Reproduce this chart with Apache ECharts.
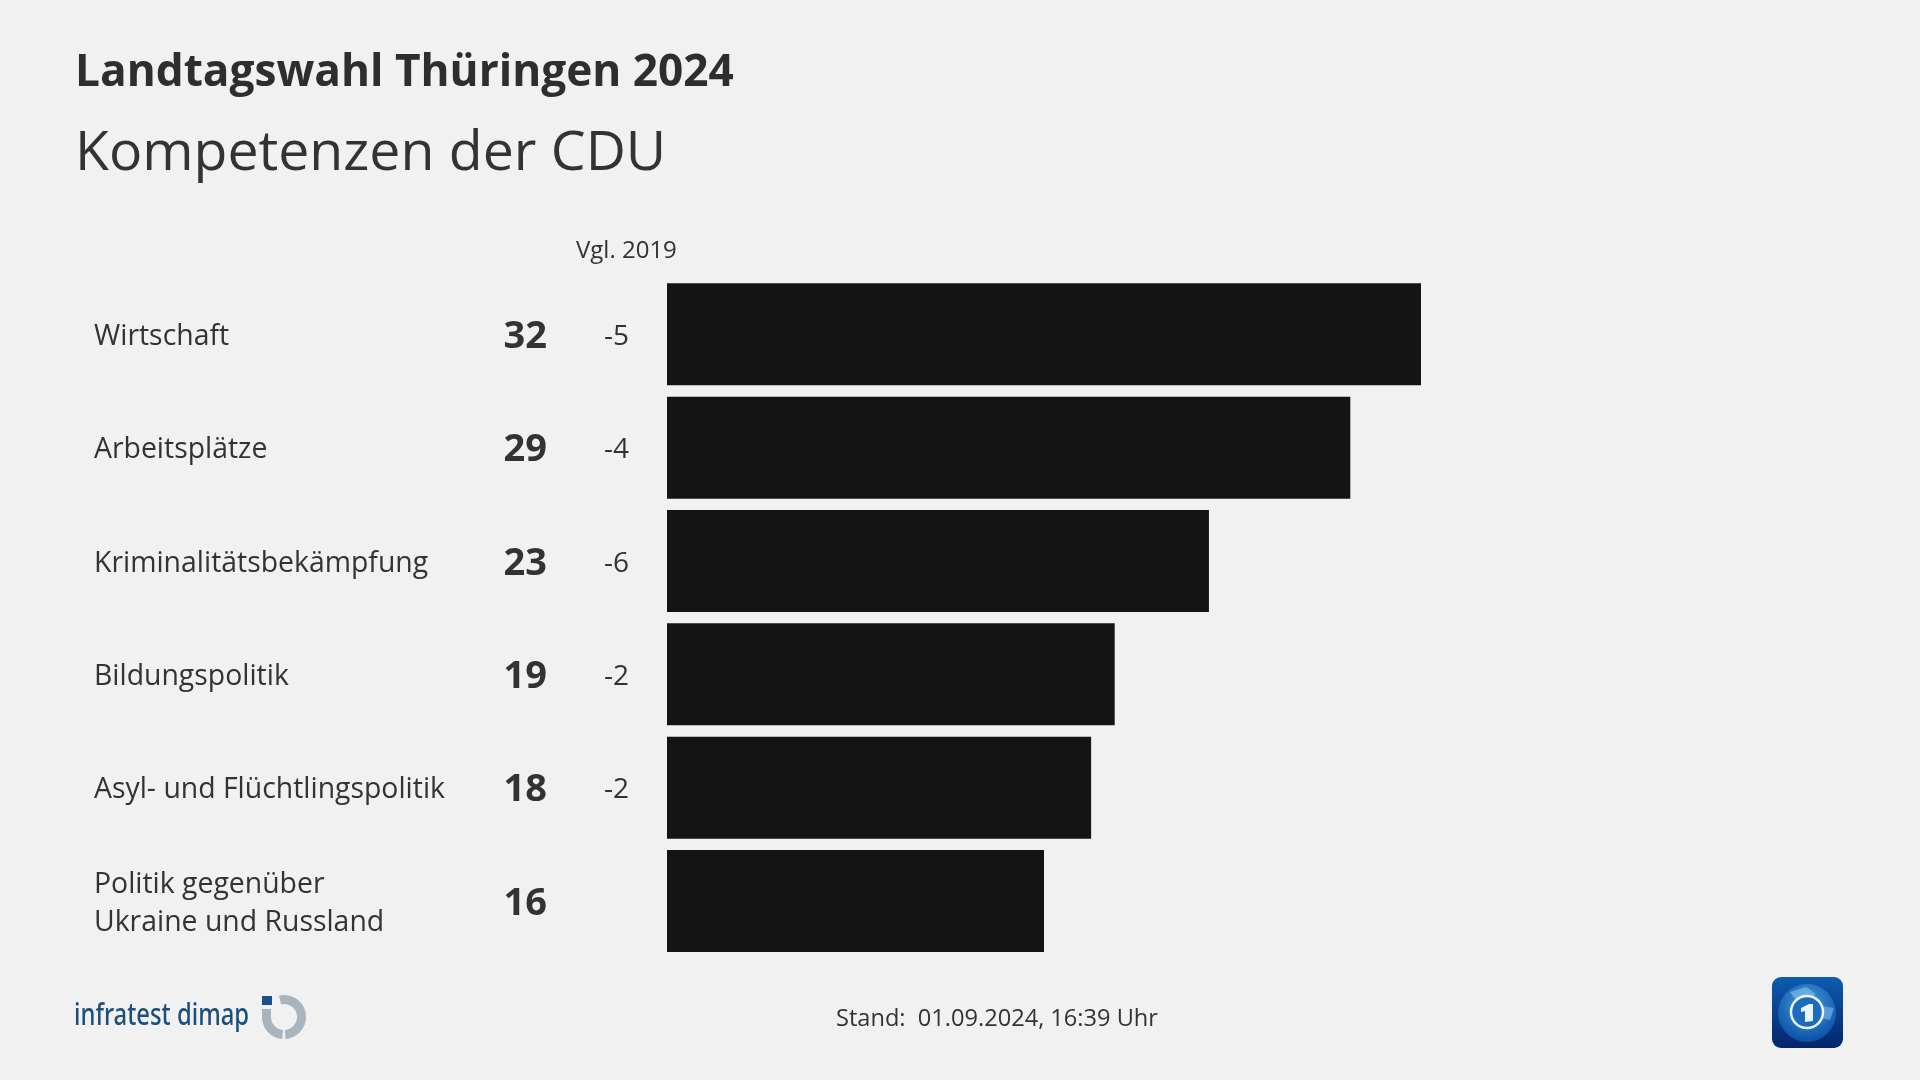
<!DOCTYPE html>
<html><head><meta charset="utf-8">
<style>html,body{margin:0;padding:0;background:#f1f1f1}#c{width:1920px;height:1080px}</style>
<script src="https://cdn.jsdelivr.net/npm/echarts@6/dist/echarts.min.js"></script></head>
<body><div id="c"></div>
<script>
const categories = ['Wirtschaft','Arbeitsplätze','Kriminalitätsbekämpfung','Bildungspolitik','Asyl- und Flüchtlingspolitik','Politik gegenüber\nUkraine und Russland'];
const values = [32,29,23,19,18,16];
const changes = ['-5','-4','-6','-2','-2',''];
const FONT = '"Open Sans","Noto Sans",sans-serif';
const INK = '#333333';
const chart = echarts.init(document.getElementById('c'), null, {renderer:'canvas'});
const yBase = {type:'category', inverse:true, position:'left', gridIndex:1, axisLine:{show:false}, axisTick:{show:false}, splitLine:{show:false}};
chart.setOption({
  backgroundColor:'#f1f1f1',
  animation:false,
  title:[
    {text:'Landtagswahl Thüringen 2024', left:70, top:46, textStyle:{fontFamily:FONT,fontWeight:700,fontSize:44.2,color:'#2e2e2e'}},
    {text:'Kompetenzen der CDU', left:70, top:122, textStyle:{fontFamily:FONT,fontWeight:400,fontSize:55.4,color:'#333333'}}
  ],
  grid:[
    {left:667, top:277.7, width:754, height:680},
    {left:667, top:280.4, width:754, height:680}
  ],
  xAxis:[
    {type:'value', min:0, max:32, show:false, gridIndex:0},
    {type:'value', min:0, max:32, show:false, gridIndex:1}
  ],
  yAxis:[
    {type:'category', inverse:true, gridIndex:0, data:categories, show:false},
    Object.assign({}, yBase, {data:categories, axisLabel:{align:'left', margin:573, fontFamily:FONT, fontSize:28.4, lineHeight:38.5, color:INK}}),
    Object.assign({}, yBase, {data:values, axisLabel:{align:'right', margin:120, fontFamily:FONT, fontSize:38, fontWeight:700, color:INK}}),
    Object.assign({}, yBase, {data:changes, axisLabel:{align:'left', margin:63, fontFamily:FONT, fontSize:28, color:INK}})
  ],
  series:[{type:'bar', xAxisIndex:0, yAxisIndex:0, data:values, barWidth:102, itemStyle:{color:'#141414'}, silent:true}],
  graphic:[
    {type:'text', left:576, top:239, style:{text:'Vgl. 2019', font:'24px '+FONT, fill:INK}},
    {type:'text', left:836, top:1007, style:{text:'Stand:  01.09.2024, 16:39 Uhr', font:'23.6px '+FONT, fill:INK}},
    {type:'text', x:74, y:1001, scaleX:0.795, style:{text:'infratest dimap', font:'500 30px "Noto Sans",sans-serif', fill:'#1d4f7c'}},
    // infratest dimap logo mark
    {type:'arc', shape:{cx:284,cy:1017,r:17.5,startAngle:-1.8,endAngle:1.5}, style:{stroke:'#a9b4bd',lineWidth:9,fill:null}},
    {type:'arc', shape:{cx:284,cy:1017,r:17.5,startAngle:1.65,endAngle:3.14}, style:{stroke:'#a9b4bd',lineWidth:9,fill:null}},
    {type:'rect', shape:{x:262,y:996,width:10,height:9}, style:{fill:'#1d4f8c'}},
    {type:'rect', shape:{x:262,y:1009,width:9,height:9}, style:{fill:'#a9b4bd'}},
    // ARD tagesschau icon
    {type:'rect', shape:{x:1772,y:977,width:71,height:71,r:9}, style:{fill:new echarts.graphic.LinearGradient(0,0,0,1,[{offset:0,color:'#0d5cb0'},{offset:1,color:'#04246a'}])}},
    {type:'circle', shape:{cx:1807,cy:1013,r:29}, style:{fill:new echarts.graphic.RadialGradient(0.5,0.35,0.65,[{offset:0,color:'#4aa0e0'},{offset:1,color:'#0a4fa6'}])}},
    {type:'polygon', shape:{points:[[1790,992],[1806,987],[1816,994],[1808,1000],[1796,1000]]}, style:{fill:'#7dbbe6',opacity:0.7}},
    {type:'polygon', shape:{points:[[1822,1006],[1834,1008],[1830,1020],[1822,1018]]}, style:{fill:'#7dbbe6',opacity:0.6}},
    {type:'circle', shape:{cx:1807,cy:1012,r:16}, style:{stroke:'#e8f4fb',lineWidth:2.5,fill:'#1c6cbb'}},
    {type:'polygon', shape:{points:[[1801,1008],[1809,1004],[1813,1004],[1813,1021],[1805,1022],[1805,1011],[1801,1012]]}, style:{fill:'#e8f4fb'}}
  ]
});
</script></body></html>
